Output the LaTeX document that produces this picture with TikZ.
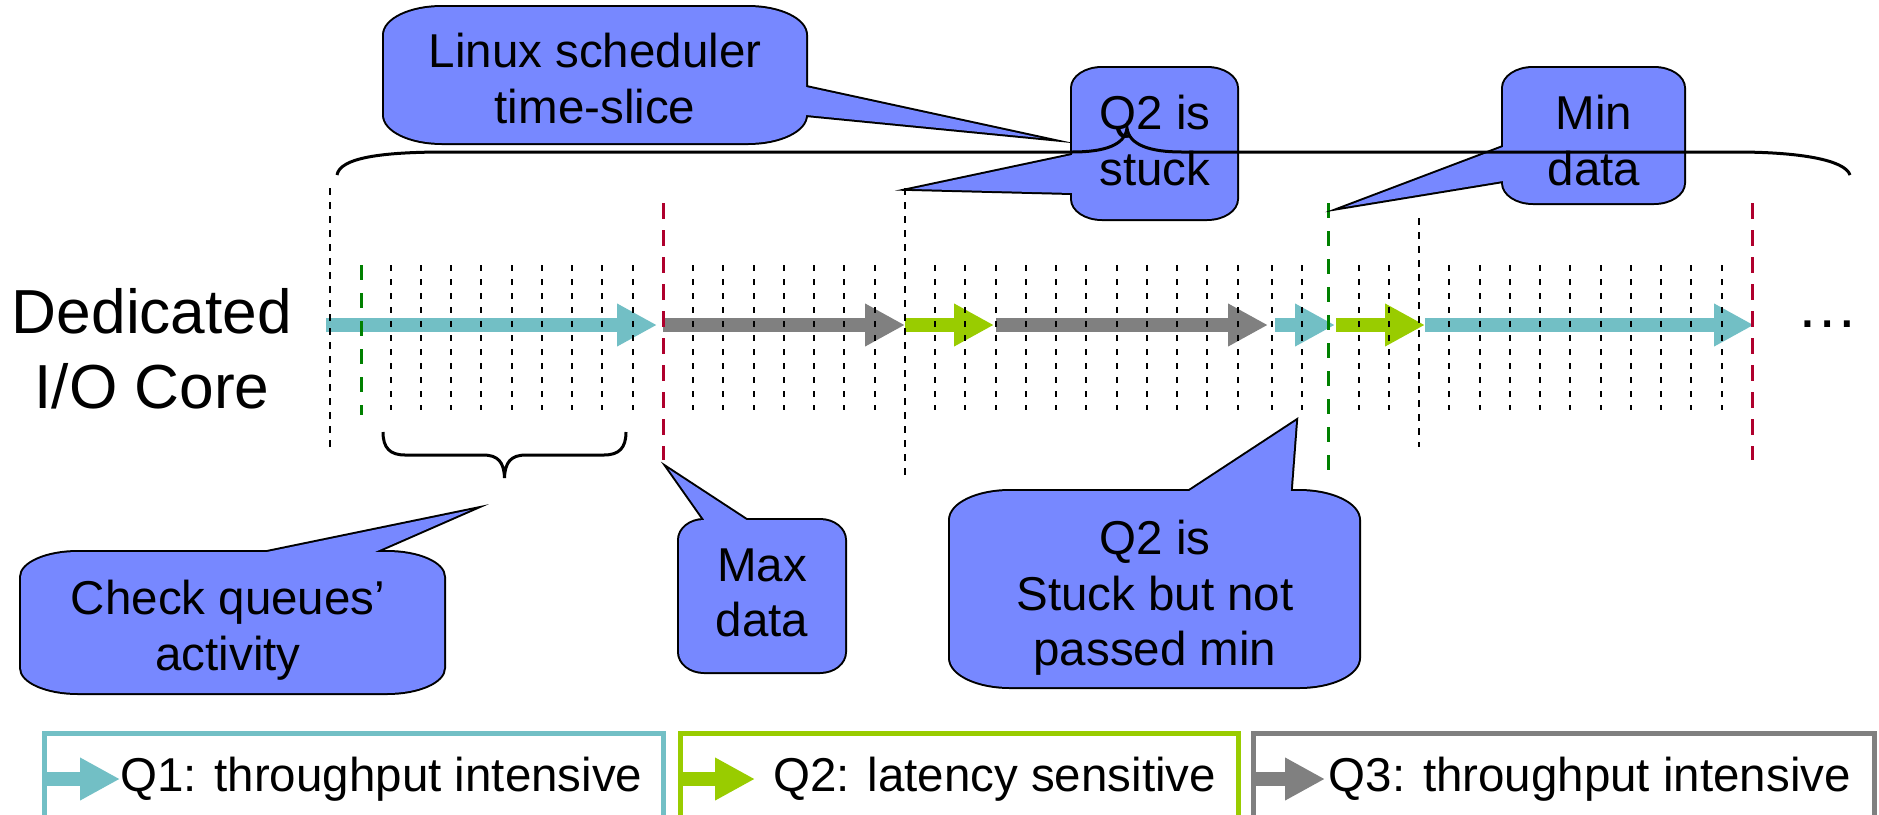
\documentclass[tikz,border=0pt]{standalone}
\usepackage{fontspec}
\setmainfont{Liberation Sans}
\usetikzlibrary{arrows.meta}
\definecolor{callfill}{RGB}{119,136,255}
\definecolor{qcyan}{RGB}{114,191,197}
\definecolor{qgreen}{RGB}{153,204,0}
\definecolor{qgray}{RGB}{128,128,128}
\definecolor{dgreen}{RGB}{0,128,0}
\definecolor{crimson}{RGB}{175,0,45}
\tikzset{
  tickline/.style={draw=black, line width=1pt, dash pattern=on 3pt off 4pt},
  slotline/.style={draw=black, line width=0.75pt, dash pattern=on 3.5pt off 3.5pt},
  minline/.style={draw=dgreen, line width=1.5pt, dash pattern=on 7.5pt off 6.5pt},
  maxline/.style={draw=crimson, line width=1.5pt, dash pattern=on 8pt off 5.5pt},
  qarrow/.style={line width=7pt, -{Triangle[length=20pt,width=20pt]}},
  cstroke/.style={draw=black, line width=2pt, line join=miter, miter limit=20},
  cfill/.style={fill=callfill},
  ctext/.style={anchor=north, inner sep=0pt, align=center, font=\fontsize{23.75}{27.75}\selectfont},
  bracel/.style={draw=black, line width=1.5pt},
  legbox/.style={line width=2.5pt},
  legtext/.style={anchor=base west, inner sep=0pt, font=\fontsize{23.75}{28}\selectfont},
  erect/.style n args={6}{insert path={({#1+#5},#2) -- ({#3-#5},#2) .. controls ({#3-0.448*#5},#2) and (#3,{#2+0.448*#6}) .. (#3,{#2+#6}) -- (#3,{#4-#6}) .. controls (#3,{#4-0.448*#6}) and ({#3-0.448*#5},#4) .. ({#3-#5},#4) -- ({#1+#5},#4) .. controls ({#1+0.448*#5},#4) and (#1,{#4-0.448*#6}) .. (#1,{#4-#6}) -- (#1,{#2+#6}) .. controls (#1,{#2+0.448*#6}) and ({#1+0.448*#5},#2) .. ({#1+#5},#2) -- cycle}}
}
\begin{document}
\begin{tikzpicture}[x=0.5pt,y=-0.5pt]
\clip (0,0) rectangle (1879,814);
\fill[white] (0,0) rectangle (1879,814);

% timeline arrows
\coordinate (a1s) at (326,325);  \coordinate (a1e) at (657,325);
\coordinate (a2s) at (663,325);  \coordinate (a2e) at (905,325);
\coordinate (a3s) at (905,325);  \coordinate (a3e) at (994,325);
\coordinate (a4s) at (996,325);  \coordinate (a4e) at (1268,325);
\coordinate (a5s) at (1275,325); \coordinate (a5e) at (1335,325);
\coordinate (a6s) at (1336,325); \coordinate (a6e) at (1425,325);
\coordinate (a7s) at (1425,325); \coordinate (a7e) at (1754,325);
\draw[qarrow, color=qcyan]  (a1s) -- (a1e);
\draw[qarrow, color=qgray]  (a2s) -- (a2e);
\draw[qarrow, color=qgreen] (a3s) -- (a3e);
\draw[qarrow, color=qgray]  (a4s) -- (a4e);
\draw[qarrow, color=qcyan]  (a5s) -- (a5e);
\draw[qarrow, color=qgreen] (a6s) -- (a6e);
\draw[qarrow, color=qcyan]  (a7s) -- (a7e);

% ticks
\foreach \k in {2,3,4,5,6,7,8,9,10,12,13,14,15,16,17,18,20,21,22,23,24,25,26,27,28,29,30,34,35,37,38,39,40,41,42,43,44,45,46}
  \draw[tickline] ({330+30.25*\k},265) -- ({330+30.25*\k},410);
\foreach \x in {1271.5,1302}
  \draw[tickline] (\x,265) -- (\x,410);

% slot lines
\draw[slotline] (330,188) -- (330,447);
\draw[slotline] (905,188) -- (905,475);
\draw[slotline] (1419,218) -- (1419,447);
\draw[minline] (361,265) -- (361,415);
\draw[minline] (1328.5,203) -- (1328.5,472);
\draw[maxline] (663,203) -- (663,460);
\draw[maxline] (1752,203) -- (1752,460);

% callout: Linux scheduler
\path[cstroke, erect={384}{7}{806}{143}{58}{28}];
\draw[cstroke] (806,87) -- (1041,138) -- (806,115);
\path[cfill, erect={384}{7}{806}{143}{58}{28}];
\fill[callfill] (806,87) -- (1041,138) -- (806,115) -- cycle;
\node[ctext] (linux) at (595,33) {Linux scheduler\\time-slice};

% callout: Q2 is stuck
\path[cstroke, erect={1072}{68}{1237}{219}{30}{20}];
\draw[cstroke] (1072,155) -- (912,189) -- (1072,193);
\path[cfill, erect={1072}{68}{1237}{219}{30}{20}];
\fill[callfill] (1072,155) -- (912,189) -- (1072,193) -- cycle;
\node[ctext] (stuck) at (1155,95) {Q2 is\\stuck};

% callout: Min data
\path[cstroke, erect={1503}{68}{1684}{203}{30}{20}];
\draw[cstroke] (1503,147) -- (1344.5,207) -- (1503,181);
\path[cfill, erect={1503}{68}{1684}{203}{30}{20}];
\fill[callfill] (1503,147) -- (1344.5,207) -- (1503,181) -- cycle;
\node[ctext] (mindata) at (1594,95) {Min\\data};

% callout: Check queues
\path[cstroke, erect={21}{552}{444}{693}{57}{25}];
\draw[cstroke] (267,552) -- (470.6,510) -- (374.7,552);
\path[cfill, erect={21}{552}{444}{693}{57}{25}];
\fill[callfill] (267,552) -- (470.6,510) -- (374.7,552) -- cycle;
\node[ctext] (check) at (228,580) {Check queues’\\activity};

% callout: Max data
\path[cstroke, erect={679}{520}{845}{672}{25}{20}];
\draw[cstroke] (704.4,520) -- (668.5,469) -- (746.4,520);
\path[cfill, erect={679}{520}{845}{672}{25}{20}];
\fill[callfill] (704.4,520) -- (668.5,469) -- (746.4,520) -- cycle;
\node[ctext] (maxdata) at (762,548) {Max\\data};

% callout: Q2 stuck but not passed min
\path[cstroke, erect={950}{491}{1359}{687}{60}{29}];
\draw[cstroke] (1189.3,491) -- (1296,421) -- (1290.7,491);
\path[cfill, erect={950}{491}{1359}{687}{60}{29}];
\fill[callfill] (1189.3,491) -- (1296,421) -- (1290.7,491) -- cycle;
\node[ctext] (notmin) at (1155,520) {Q2 is\\Stuck but not\\passed min};

% braces
\draw[bracel] (337,175) .. controls (340,158) and (380,152) .. (446,152) -- (1072,152)
  .. controls (1105,152) and (1125,145) .. (1127,128)
  .. controls (1129,145) and (1150,152) .. (1182,152) -- (1736,152)
  .. controls (1800,152) and (1845,160) .. (1850,175);
\draw[bracel] (383,432) .. controls (383,448) and (390,455) .. (405,455) -- (483,455)
  .. controls (498,455) and (504,462) .. (504.5,478)
  .. controls (505,462) and (511,455) .. (526,455) -- (604,455)
  .. controls (619,455) and (626,448) .. (626,432);

% labels
\node[anchor=north, align=center, inner sep=0pt, font=\fontsize{31.1}{37.5}\selectfont] (core) at (152,288) {Dedicated\\I/O Core};
\node[anchor=base, inner sep=0pt, font=\fontsize{31.1}{37.5}\selectfont] (more) at (1828,327) {…};

% legend
\draw[legbox, qcyan]  (44.5,733) rectangle (663,840);
\draw[legbox, qgreen] (680,733) rectangle (1238.5,840);
\draw[legbox, qgray]  (1253,733) rectangle (1874,840);
\coordinate (l1s) at (42,779);   \coordinate (l1e) at (120,779);
\coordinate (l2s) at (680,779);  \coordinate (l2e) at (755,779);
\coordinate (l3s) at (1251,779); \coordinate (l3e) at (1325,779);
\draw[qarrow, color=qcyan]  (l1s) -- (l1e);
\draw[qarrow, color=qgreen] (l2s) -- (l2e);
\draw[qarrow, color=qgray]  (l3s) -- (l3e);
\node[legtext] (leg1) at (120,791) {Q1: throughput intensive};
\node[legtext] (leg2) at (773,791) {Q2: latency sensitive};
\node[legtext] (leg3) at (1328.5,791) {Q3: throughput intensive};
\end{tikzpicture}
\end{document}
